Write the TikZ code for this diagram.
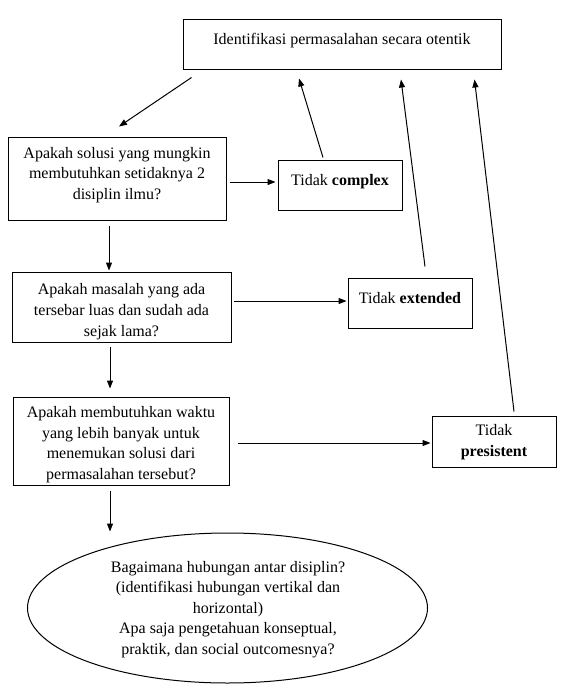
\documentclass[tikz,border=0pt]{standalone}
\usepackage{fontspec}
\setmainfont{Liberation Serif}
\usetikzlibrary{arrows.meta,calc,shapes.geometric}
\begin{document}
\begin{tikzpicture}[x=0.75pt,y=-0.75pt,
  line width=0.75pt,
  box/.style={draw=black,line width=0.75pt,rectangle,inner sep=0pt,anchor=center},
  oval/.style={draw=black,line width=0.75pt,ellipse,inner sep=0pt,anchor=center},
  txt/.style={inner sep=0pt,anchor=center,align=center,font=\fontsize{12pt}{15.5pt}\selectfont},
  arr/.style={-{Triangle[length=6pt,width=4.5pt]},line width=0.75pt}]
\useasboundingbox (0,0) rectangle (567,697);
\fill[white] (0,0) rectangle (567,697);

% boxes
\node[box,minimum width=238.5pt,minimum height=37.5pt] (top) at (342,44) {};
\node[box,minimum width=163.5pt,minimum height=62.25pt] (b1) at (117,179) {};
\node[box,minimum width=93pt,minimum height=37.5pt] (cx) at (340,185) {};
\node[box,minimum width=164.25pt,minimum height=52.5pt] (b2) at (121.5,307) {};
\node[box,minimum width=93pt,minimum height=37.5pt] (ex) at (410,303) {};
\node[box,minimum width=162pt,minimum height=66pt] (b3) at (121,441) {};
\node[box,minimum width=93pt,minimum height=38.25pt] (pr) at (494,441.5) {};
\node[oval,minimum width=300pt,minimum height=112.5pt] (ell) at (227.5,608) {};

% texts
\node[txt] (ttop) at (342,41) {Identifikasi permasalahan secara otentik};
\node[txt] (tb1) at (117,175) {Apakah solusi yang mungkin\\membutuhkan setidaknya 2\\disiplin ilmu?};
\node[txt] (tcx) at (340,182) {Tidak \textbf{complex}};
\node[txt] (tb2) at (121.5,311.5) {Apakah masalah yang ada\\tersebar luas dan sudah ada\\sejak lama?};
\node[txt] (tex) at (410,298) {Tidak \textbf{extended}};
\node[txt] (tb3) at (121,444.5) {Apakah membutuhkan waktu\\yang lebih banyak untuk\\menemukan solusi dari\\permasalahan tersebut?};
\node[txt] (tpr) at (494,442) {Tidak\\\textbf{presistent}};
\node[txt] (tell) at (228,609.5) {Bagaimana hubungan antar disiplin?\\(identifikasi hubungan vertikal dan\\horizontal)\\Apa saja pengetahuan konseptual,\\praktik, dan social outcomesnya?};

% connectors
\draw[arr] ($(top.south west)+(9,8)$) -- ($(b1.north)+(2,-10.5)$);
\draw[arr] ($(b1.east)+(3,3)$) -- ($(cx.west)+(-2,-3)$);
\draw[arr] ($(cx.north)+(-17,-2)$) -- ($(top.south)+(-43,9)$);
\draw[arr] ($(ex.north)+(15,-11)$) -- ($(top.south)+(59,10)$);
\draw[arr] ($(pr.north)+(20,-4)$) -- ($(top.south east)+(-27,10)$);
\draw[arr] ($(b1.south)+(-8,4.5)$) -- ($(b2.north)+(-12.5,-1)$);
\draw[arr] ($(b2.east)+(2,-6)$) -- ($(ex.west)+(-1,-2)$);
\draw[arr] ($(b2.south)+(-11.5,4)$) -- ($(b3.north)+(-11,-8)$);
\draw[arr] ($(b3.east)+(8,2)$) -- ($(pr.west)+(-1,1.5)$);
\draw[arr] ($(b3.south)+(-11,5)$) -- ($(ell.north)+(-117.5,-1)$);
\end{tikzpicture}
\end{document}
